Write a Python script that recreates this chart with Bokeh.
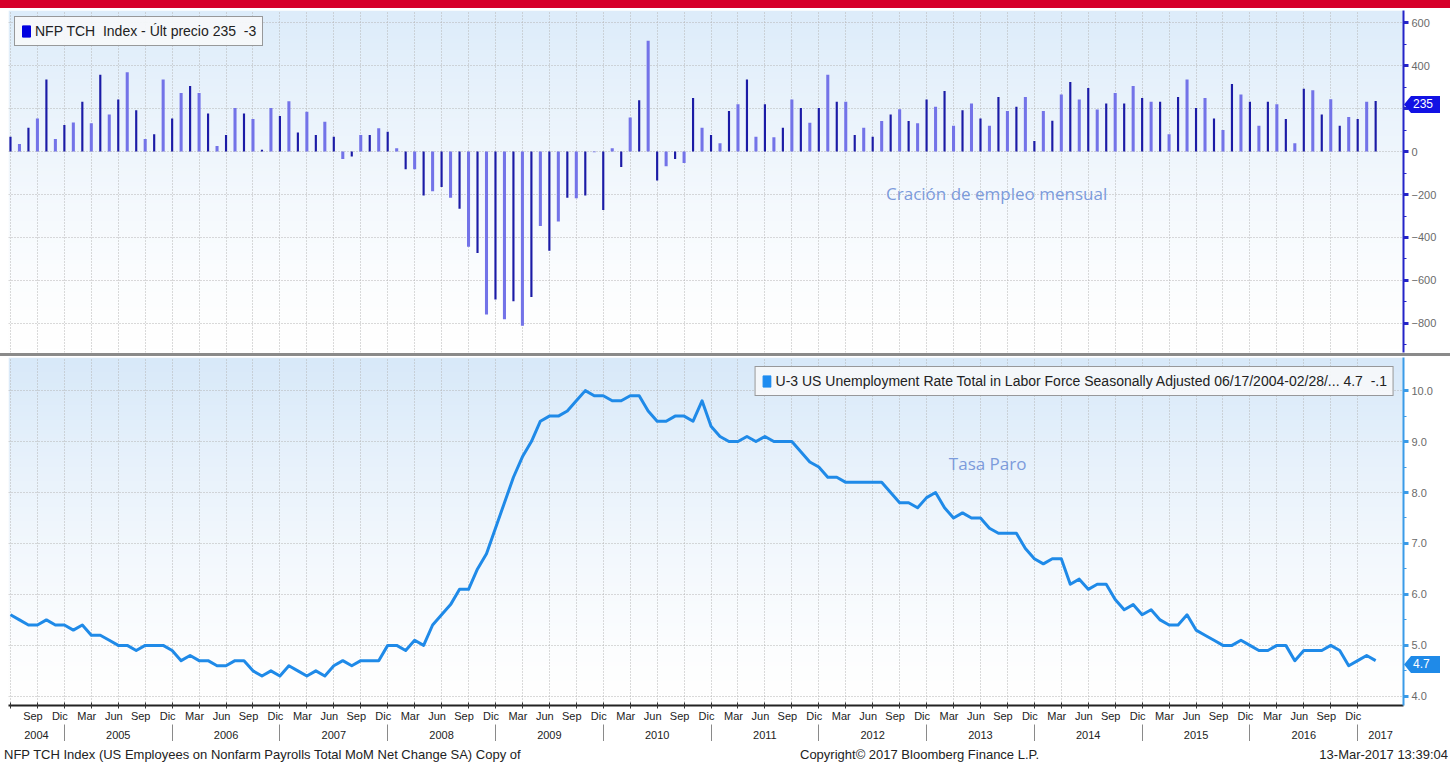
import numpy as np
from bokeh.plotting import figure
from bokeh.models import (Range1d, FixedTicker, LinearAxis, Grid, Legend, LegendItem,
                          Label, Div, NumeralTickFormatter)
from bokeh.layouts import column
from bokeh.embed import file_html
from bokeh.resources import INLINE

# ---------------- DATA ----------------
# monthly data, first month = Jun 2004, last month = Feb 2017
start_year = 2004
start_month = 6
nfp_change = [
    69, 35, 111, 154, 335, 58, 123,
    135, 231, 131, 357, 172, 242, 369, 192, 58, 80, 335, 154,
    272, 305, 272, 177, 26, 77, 203, 177, 151, 8, 203, 165,
    234, 89, 185, 77, 138, 69, -35, -23, 77, 77, 108, 92,
    15, -82, -82, -205, -185, -165, -215, -266, -443, -472, -758, -688,
    -780, -697, -811, -677, -346, -462, -326, -215, -218, -205, -3, -272,
    15, -72, 158, 238, 515, -135, -69, -35, -54, 249, 111, 77,
    38, 188, 220, 335, 69, 220, 66, 111, 242, 203, 134, 203,
    357, 231, 231, 77, 111, 69, 142, 172, 197, 142, 131, 242,
    208, 282, 120, 192, 223, 154, 120, 254, 188, 208, 254, 49,
    188, 143, 265, 323, 242, 295, 195, 223, 272, 223, 305, 249,
    231, 231, 80, 254, 335, 203, 249, 154, 100, 314, 265, 231,
    120, 231, 220, 151, 38, 292, 285, 172, 243, 120, 160, 151,
    231, 235,
]
unemployment_rate = [
    5.6, 5.5, 5.4, 5.4, 5.5, 5.4, 5.4,
    5.3, 5.4, 5.2, 5.2, 5.1, 5.0, 5.0, 4.9, 5.0, 5.0, 5.0, 4.9,
    4.7, 4.8, 4.7, 4.7, 4.6, 4.6, 4.7, 4.7, 4.5, 4.4, 4.5, 4.4,
    4.6, 4.5, 4.4, 4.5, 4.4, 4.6, 4.7, 4.6, 4.7, 4.7, 4.7, 5.0,
    5.0, 4.9, 5.1, 5.0, 5.4, 5.6, 5.8, 6.1, 6.1, 6.5, 6.8, 7.3,
    7.8, 8.3, 8.7, 9.0, 9.4, 9.5, 9.5, 9.6, 9.8, 10.0, 9.9, 9.9,
    9.8, 9.8, 9.9, 9.9, 9.6, 9.4, 9.4, 9.5, 9.5, 9.4, 9.8, 9.3,
    9.1, 9.0, 9.0, 9.1, 9.0, 9.1, 9.0, 9.0, 9.0, 8.8, 8.6, 8.5,
    8.3, 8.3, 8.2, 8.2, 8.2, 8.2, 8.2, 8.0, 7.8, 7.8, 7.7, 7.9,
    8.0, 7.7, 7.5, 7.6, 7.5, 7.5, 7.3, 7.2, 7.2, 7.2, 6.9, 6.7,
    6.6, 6.7, 6.7, 6.2, 6.3, 6.1, 6.2, 6.2, 5.9, 5.7, 5.8, 5.6,
    5.7, 5.5, 5.4, 5.4, 5.6, 5.3, 5.2, 5.1, 5.0, 5.0, 5.1, 5.0,
    4.9, 4.9, 5.0, 5.0, 4.7, 4.9, 4.9, 4.9, 5.0, 4.9, 4.6, 4.7,
    4.8, 4.7,
]
month_names = ["Ene", "Feb", "Mar", "Abr", "May", "Jun",
               "Jul", "Ago", "Sep", "Oct", "Nov", "Dic"]
nfp_ticks = [-800, -600, -400, -200, 0, 200, 400, 600]
u3_ticks = [4.0, 5.0, 6.0, 7.0, 8.0, 9.0, 10.0]
nfp_legend = "NFP TCH  Index - Últ precio 235  -3"
u3_legend = "U-3 US Unemployment Rate Total in Labor Force Seasonally Adjusted 06/17/2004-02/28/... 4.7  -.1"
nfp_note = "Cración de empleo mensual"
u3_note = "Tasa Paro"
footer_left = "NFP TCH Index (US Employees on Nonfarm Payrolls Total MoM Net Change SA) Copy of"
footer_mid = "Copyright© 2017 Bloomberg Finance L.P."
footer_right = "13-Mar-2017 13:39:04"

# ---------------- DERIVED ----------------
n = len(nfp_change)
idx = list(range(n))                      # month index, plotted at month end
mon = [(start_month - 1 + i) % 12 for i in idx]
yr = [start_year + (start_month - 1 + i) // 12 for i in idx]
bar_colors = ["#1b1ba6" if i % 2 == 0 else "#7373e8" for i in idx]
bar_widths = [0.24 if i % 2 == 0 else 0.34 for i in idx]
NAN = float("nan")

X0, X1 = -0.22, n + 2.1
xr = Range1d(X0, X1)
FONT = "Liberation Sans"
W = 1450
LB = 8
RB = 47
RED_H = 8
TOP_FT, TOP_FH, TOP_FB = 2, 342, 1
SEP_H = 3
BOT_FT, BOT_FH = 1, 348

quarter_ends = [i for i in idx if mon[i] in (2, 5, 8, 11)]
labelled = [i for i in quarter_ends if 1 <= i <= n - 3]
year_ends = [i for i in idx if mon[i] == 11]


def gradient(p, y0, y1, top_rgb):
    N = 96
    img = np.empty((N, 1), dtype=np.uint32)
    v = img.view(dtype=np.uint8).reshape((N, 1, 4))
    for k in range(N):
        t = (k / (N - 1)) ** 1.4
        v[k, 0, 0] = int(255 + (top_rgb[0] - 255) * t)
        v[k, 0, 1] = int(255 + (top_rgb[1] - 255) * t)
        v[k, 0, 2] = int(255 + (top_rgb[2] - 255) * t)
        v[k, 0, 3] = 255
    p.image_rgba(image=[img], x=X0, y=y0, dw=X1 - X0, dh=y1 - y0, level="image")


def style_right_axis(ax, color, ticks, minor):
    ax.ticker = FixedTicker(ticks=ticks, minor_ticks=minor)
    ax.axis_line_color = color
    ax.axis_line_width = 2
    ax.major_tick_line_color = color
    ax.major_tick_line_width = 3
    ax.major_tick_out = 5
    ax.major_tick_in = 0
    ax.minor_tick_line_color = color
    ax.minor_tick_out = 3
    ax.minor_tick_in = 0
    ax.major_label_text_font = FONT
    ax.major_label_text_font_size = "11px"
    ax.major_label_text_color = "#6a6a6a"
    ax.major_label_standoff = 3


def make_legend(label, renderer, loc, margin):
    lg = Legend(items=[LegendItem(label=label, renderers=[renderer])], location=loc)
    lg.label_text_font = FONT
    lg.label_text_font_size = "14px"
    lg.label_text_color = "#222222"
    lg.glyph_width = 10
    lg.glyph_height = 14
    lg.label_standoff = 4
    lg.padding = 6
    lg.margin = margin
    lg.label_height = 14
    lg.border_line_color = "#3a3a3a"
    lg.border_line_width = 1.5
    lg.background_fill_color = "#f6f8fa"
    lg.background_fill_alpha = 0.95
    return lg


def grids(p, yticks):
    p.add_layout(Grid(dimension=0, ticker=FixedTicker(ticks=quarter_ends),
                      grid_line_color="#b5b5b5", grid_line_dash="1 2", grid_line_width=1))
    p.add_layout(Grid(dimension=1, ticker=FixedTicker(ticks=yticks),
                      grid_line_color="#b5b5b5", grid_line_dash="1 2", grid_line_width=1))


# ---------------- TOP: NFP ----------------
top_y0, top_y1 = -935, 656
pt = figure(width=W, frame_height=TOP_FH, x_range=xr, y_range=Range1d(top_y0, top_y1),
            x_axis_location=None, y_axis_location="right", output_backend="svg",
            toolbar_location=None, min_border_left=LB, min_border_right=RB,
            min_border_top=TOP_FT, min_border_bottom=TOP_FB)
pt.outline_line_color = None
pt.background_fill_color = "white"
pt.xgrid.visible = False
pt.ygrid.visible = False
gradient(pt, top_y0, top_y1, (221, 236, 250))
style_right_axis(pt.yaxis[0], "#2424c8", nfp_ticks, list(range(-900, 700, 100)))
grids(pt, nfp_ticks)

pt.vbar(x=idx, top=nfp_change, bottom=0, width=bar_widths,
        fill_color=bar_colors, line_color=None)
leg_r = pt.vbar(x=[NAN], top=[NAN], width=0.5, fill_color="#0000e0", line_color="#0000e0")
pt.add_layout(make_legend(nfp_legend, leg_r, "top_left", 6))
pt.add_layout(Label(x=109.8, y=-195, text=nfp_note, text_align="center",
                    text_baseline="middle", text_color="#7c9bdb",
                    text_font="Open Sans", text_font_size="17px"))

# ---------------- BOTTOM: U3 ----------------
bot_y0, bot_y1 = 3.82, 10.65
pb = figure(width=W, frame_height=BOT_FH, x_range=xr, y_range=Range1d(bot_y0, bot_y1),
            x_axis_location=None, y_axis_location="right", output_backend="svg",
            toolbar_location=None, min_border_left=LB, min_border_right=RB,
            min_border_top=BOT_FT, min_border_bottom=0)
pb.outline_line_color = None
pb.background_fill_color = "white"
pb.xgrid.visible = False
pb.ygrid.visible = False
gradient(pb, bot_y0, bot_y1, (216, 233, 249))
style_right_axis(pb.yaxis[0], "#3a9be8", u3_ticks, [4.5 + k for k in range(6)])
pb.yaxis[0].formatter = NumeralTickFormatter(format="0.0")
grids(pb, u3_ticks)

pb.line(x=idx, y=unemployment_rate, line_color="#1f8ae8", line_width=3,
        line_join="round")
leg_b = pb.vbar(x=[NAN], top=[NAN], width=0.5, fill_color="#1e8cf0", line_color="#1e8cf0")
pb.add_layout(make_legend(u3_legend, leg_b, "top_right", 9))
pb.add_layout(Label(x=108.8, y=8.57, text=u3_note, text_align="center",
                    text_baseline="middle", text_color="#7c9bdb",
                    text_font="Open Sans", text_font_size="17px"))

# month axis
month_ax = LinearAxis(ticker=FixedTicker(ticks=[i - 0.5 for i in labelled],
                                         minor_ticks=quarter_ends))
month_ax.major_label_overrides = {i - 0.5: month_names[mon[i]] for i in labelled}
month_ax.axis_line_color = "#222222"
month_ax.axis_line_width = 2
month_ax.major_tick_out = 0
month_ax.major_tick_in = 0
month_ax.minor_tick_out = 3
month_ax.minor_tick_in = 3
month_ax.minor_tick_line_color = "#333333"
month_ax.major_label_standoff = 1
month_ax.major_label_text_font = FONT
month_ax.major_label_text_font_size = "11px"
month_ax.major_label_text_color = "#222222"
pb.add_layout(month_ax, "below")

# year axis
years = sorted(set(yr))
year_pos = []
for y in years:
    lo = max(X0, min(i for i in idx if yr[i] == y) - 1)
    hi = min(X1, max(i for i in idx if yr[i] == y) if y < years[-1] else X1)
    year_pos.append((lo + hi) / 2)
year_ax = LinearAxis(ticker=FixedTicker(ticks=year_pos, minor_ticks=year_ends))
year_ax.major_label_overrides = {p: str(y) for p, y in zip(year_pos, years)}
year_ax.axis_line_color = None
year_ax.major_tick_out = 0
year_ax.major_tick_in = 0
year_ax.minor_tick_out = 19
year_ax.minor_tick_in = 0
year_ax.minor_tick_line_color = "#8a8a8a"
year_ax.major_label_standoff = -13
year_ax.major_label_text_font = FONT
year_ax.major_label_text_font_size = "11px"
year_ax.major_label_text_color = "#222222"
pb.add_layout(year_ax, "below")

# ---------------- PAGE ----------------
top_fig_top = RED_H
top_frame_top = top_fig_top + TOP_FT
bot_frame_top = top_fig_top + TOP_FT + TOP_FH + TOP_FB + SEP_H + BOT_FT


def y_px(val, y0, y1, ftop, fh):
    return ftop + (y1 - val) / (y1 - y0) * fh


flag_x = LB + (W - LB - RB) + 1
fy1 = y_px(nfp_change[-1], top_y0, top_y1, top_frame_top, TOP_FH)
fy2 = y_px(unemployment_rate[-1], bot_y0, bot_y1, bot_frame_top, BOT_FH)
flag_css = ("position:absolute;left:{x}px;top:{y}px;width:36px;height:17px;"
            "background:{c};color:white;font-family:'Liberation Sans';font-size:12px;"
            "line-height:17px;padding-left:9px;box-sizing:border-box;"
            "clip-path:polygon(0 50%,7px 0,100% 0,100% 100%,7px 100%);z-index:20")
flags = (f'<div style="position:relative;width:{W}px;height:{RED_H}px;">'
         f'<div style="{flag_css.format(x=flag_x, y=round(fy1 - 8.5), c="#1212e4")}">{nfp_change[-1]}</div>'
         f'<div style="{flag_css.format(x=flag_x, y=round(fy2 - 8.5), c="#1f8ae8")}">{unemployment_rate[-1]}</div>'
         f'</div>')
red = Div(text=flags, width=W, height=RED_H, margin=0,
          styles={"background-color": "#d6002a", "overflow": "visible",
                  "z-index": "20", "position": "relative"})
sep = Div(text="", width=W, height=SEP_H, margin=0,
          styles={"background-color": "#8a8a8a"})
footer = Div(
    text=(f'<div style="position:relative;width:{W}px;height:20px;'
          f'font-family:\'{FONT}\';font-size:13px;color:#222;white-space:nowrap">'
          f'<span style="position:absolute;left:4px;top:5px">{footer_left}</span>'
          f'<span style="position:absolute;left:800px;top:5px">{footer_mid}</span>'
          f'<span style="position:absolute;right:2px;top:5px">{footer_right}</span></div>'),
    width=W, height=20, margin=0)

layout = column(red, pt, sep, pb, footer, spacing=0)
open("out.html", "w").write(file_html(layout, INLINE))
